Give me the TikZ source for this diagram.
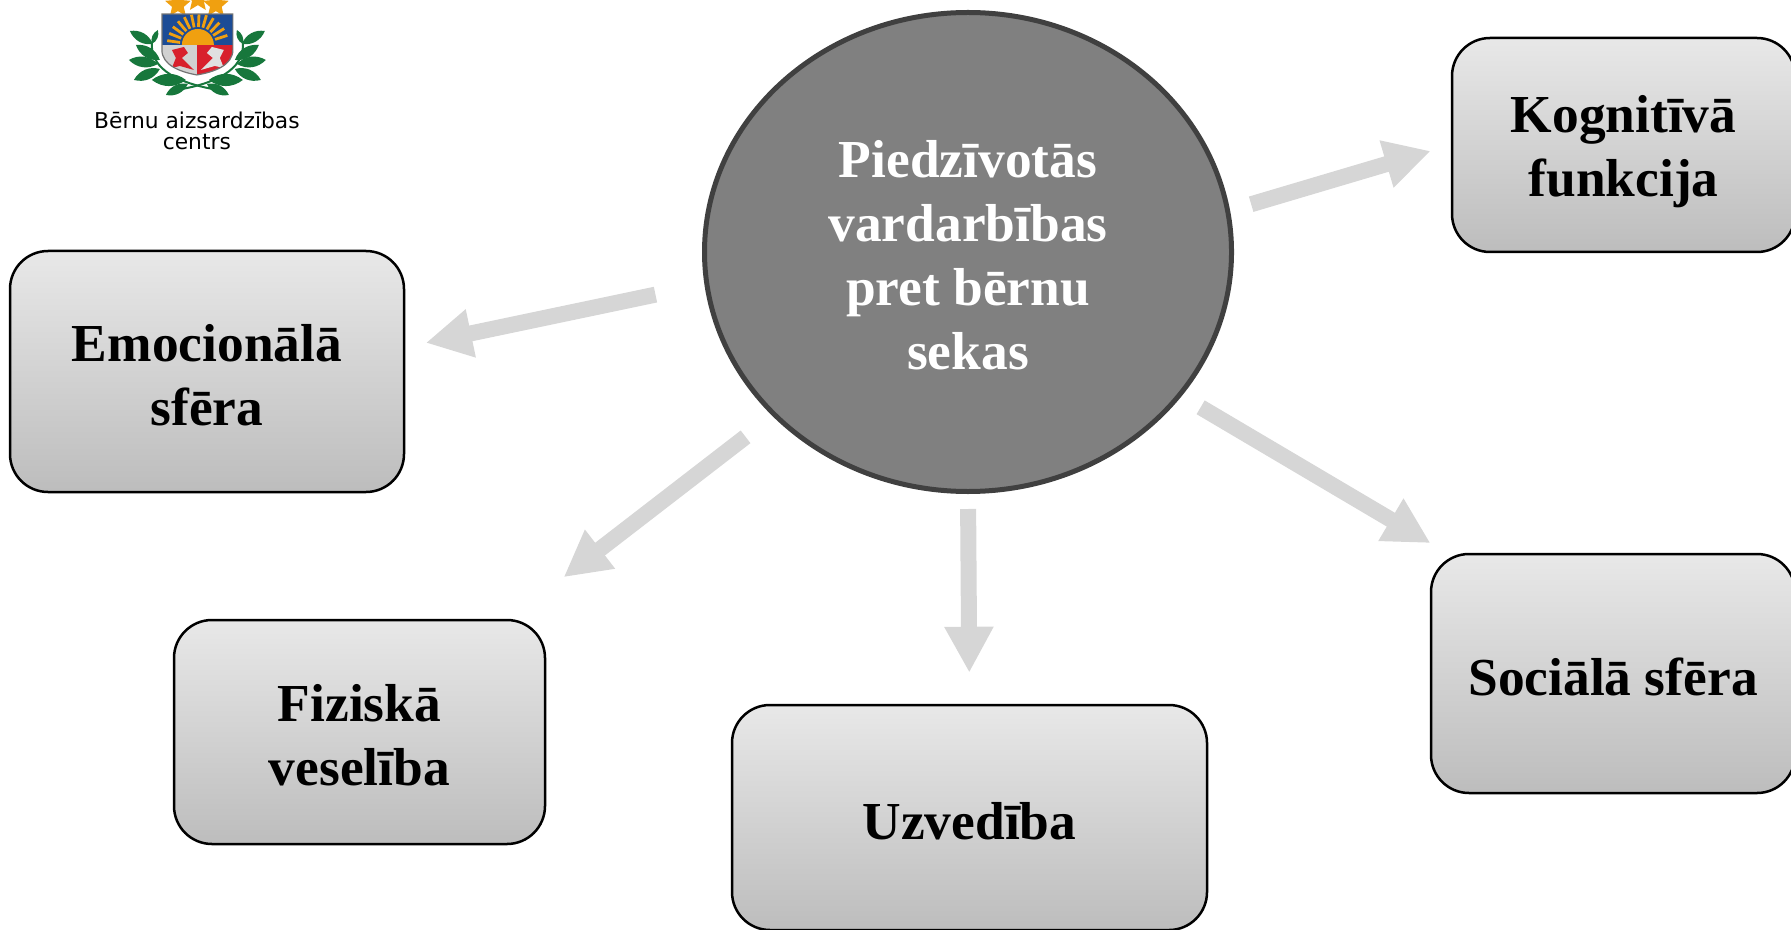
\documentclass[tikz,border=0pt]{standalone}
\usepackage{fontspec}
\setmainfont{Liberation Serif}
\newfontfamily\logofont{DejaVu Sans}
\usetikzlibrary{calc,arrows.meta,shapes.geometric}
\definecolor{arrowgrey}{HTML}{D6D6D6}
\definecolor{leafgreen}{HTML}{17773C}
\definecolor{shieldblue}{HTML}{1C4C96}
\definecolor{sunorange}{HTML}{F0A010}
\definecolor{shieldred}{HTML}{D8202C}
\newcommand{\toprule}[1]{\rule{0pt}{#1pt}}
\tikzset{
  sekabox/.style={draw=black,line width=.025cm,rounded corners=.38cm,top color=black!9,bottom color=black!26,
    align=center,inner sep=0pt,font=\fontsize{15.2}{18.2}\selectfont\bfseries},
  sekaarrow/.style={draw=arrowgrey,line width=.16cm,-{Triangle[length=.46cm,width=.46cm]}},
  logotext/.style={font=\logofont\fontsize{6.2}{6.2}\selectfont,align=center,inner sep=0pt}
}
\begin{document}
\begin{tikzpicture}
              \useasboundingbox (0,0) rectangle (17.91,9.29);
              % logo, in pixels of the page
              \begin{scope}[shift={(0,9.29)},x=.01cm,y=-.01cm]
              \foreach \sx/\sy in {178/5,198/-1,216/5}{
                \node[star,star points=5,star point ratio=2.2,fill=sunorange,minimum size=.27cm,inner sep=0pt] (star\sx) at (\sx,\sy) {};
              }
              \draw[leafgreen,line width=.02cm] (152,42) .. controls (150,65) and (170,82) .. (218,90);
              \draw[leafgreen,line width=.02cm] (243,42) .. controls (245,65) and (225,82) .. (177,90);
              \foreach \bx/\by/\tx/\ty in {153/44/130/31,152/44/158/30,160/60/136/45,158/64/129/60,160/69/134/80,186/80/152/80,188/84/166/95}{
                \fill[leafgreen] (\bx,\by) to[bend left=38] (\tx,\ty) to[bend left=38] (\bx,\by);
                \fill[leafgreen] (395-\bx,\by) to[bend left=38] (395-\tx,\ty) to[bend left=38] (395-\bx,\by);
              }
              \begin{scope}
                \clip (162,14) -- (233,14) -- (233,50) .. controls (233,65) and (215,72) .. (197,75) .. controls (180,72) and (162,65) .. (162,50) -- cycle;
                \fill[shieldblue] (162,14) rectangle (233,45);
                \fill[black!18] (162,45) rectangle (197,76);
                \fill[shieldred] (197,45) rectangle (233,76);
                \foreach \ra in {-172,-158,...,-8}{
                  \draw[sunorange,line width=.028cm] ($(198,45)+(\ra:18)$) -- ($(198,45)+(\ra:31)$);
                }
                \fill[sunorange] (182,45) arc (180:360:16 and 16) -- cycle;
                \fill[shieldred] (172,50) -- (184,47) -- (188,53) -- (182,58) -- (194,70) -- (180,66) -- (172,68) -- (176,58) -- cycle;
                \fill[black!12] (224,50) -- (212,47) -- (207,53) -- (213,58) -- (201,70) -- (215,66) -- (224,68) -- (220,58) -- cycle;
              \end{scope}
              \draw[black!55,line width=.012cm] (162,14) -- (233,14) -- (233,50) .. controls (233,65) and (215,72) .. (197,75) .. controls (180,72) and (162,65) .. (162,50) -- cycle;
              \node[logotext] (centrs) at (197,131) {Bērnu aizsardzības\\centrs};
              \end{scope}
              % centre
              \node[ellipse,draw=black!75,fill=black!50,line width=.05cm,minimum width=5.27cm,minimum height=4.79cm,inner sep=0pt,
                align=center,text=white,font=\fontsize{15.2}{18.2}\selectfont\bfseries] (sekas) at (9.68,6.77)
                {\toprule{12.4}Piedzīvotās\\vardarbības\\pret bērnu\\sekas};
              % boxes
              \node[sekabox,minimum width=3.43cm,minimum height=2.14cm] (kognitiva) at (16.235,7.84) {\toprule{14.2}Kognitīvā\\funkcija};
              \node[sekabox,minimum width=3.94cm,minimum height=2.41cm] (emocionala) at (2.07,5.575) {\toprule{12.4}Emocionālā\\sfēra};
              \node[sekabox,minimum width=3.71cm,minimum height=2.24cm] (fiziska) at (3.595,1.97) {\toprule{12.4}Fiziskā\\veselība};
              \node[sekabox,minimum width=4.75cm,minimum height=2.25cm] (uzvediba) at (9.695,1.115) {\toprule{12.4}Uzvedība};
              \node[sekabox,minimum width=3.64cm,minimum height=2.39cm] (sociala) at (16.13,2.555) {\toprule{12.4}Sociālā sfēra};
              % arrows
              \draw[sekaarrow,shorten <=.22cm,shorten >=.21cm] (sekas.9.6) -- (kognitiva.180.8);
              \draw[sekaarrow,shorten <=.50cm,shorten >=.21cm] (sekas.187.6) -- (emocionala.7.8);
              \draw[sekaarrow,shorten <=.34cm,shorten >=.68cm] (sekas.220.9) -- (fiziska.37.7);
              \draw[sekaarrow,shorten <=.15cm,shorten >=.31cm] (sekas.south) -- (uzvediba.north);
              \draw[sekaarrow,shorten <=.22cm,shorten >=.19cm] (sekas.-34.6) -- (sociala.144.6);
\end{tikzpicture}
\end{document}
